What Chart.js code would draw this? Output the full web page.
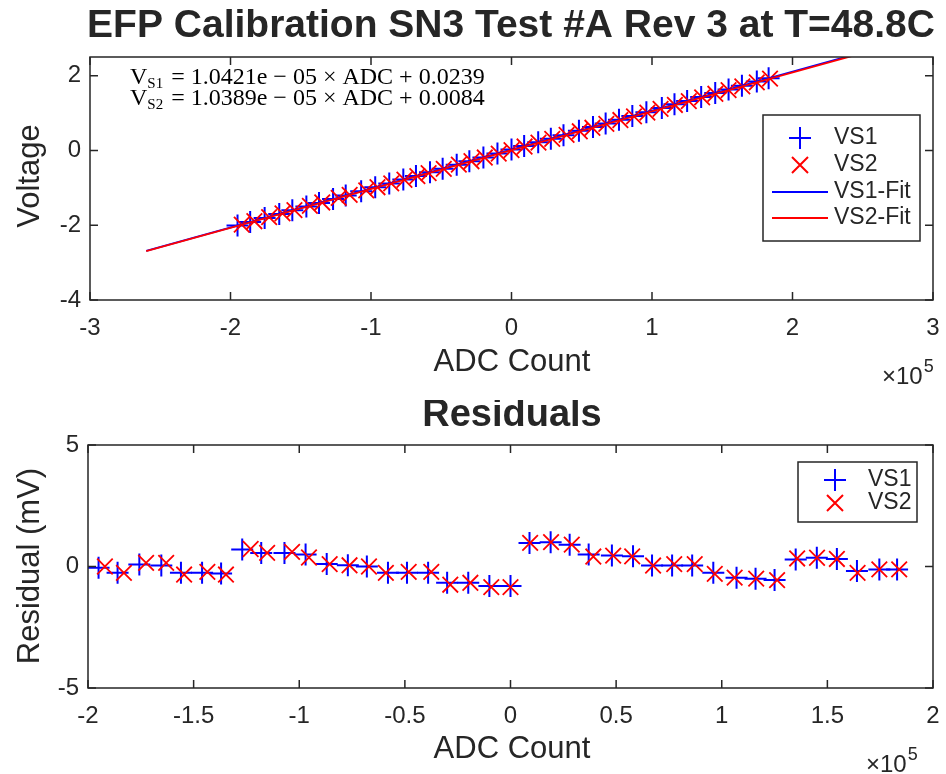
<!DOCTYPE html>
<html><head><meta charset="utf-8">
<script src="https://cdn.jsdelivr.net/npm/chart.js@4.4.1/dist/chart.umd.min.js"></script>
<style>
html,body{margin:0;padding:0;background:#fff;}
#wrap{position:relative;width:946px;height:774px;overflow:hidden;}
canvas{position:absolute;left:0;}
</style></head>
<body><div id="wrap">
<canvas id="c1" width="946" height="400" style="top:0;width:946px;height:400px"></canvas>
<canvas id="c2" width="946" height="374" style="top:400px;width:946px;height:374px"></canvas>
</div>
<script>
// ADC counts in units of 1e5
const adc1 = [-1.95,-1.86,-1.757,-1.653,-1.56,-1.46,-1.37,-1.27,-1.18,-1.07,-0.97,-0.87,-0.77,-0.68,-0.58,-0.49,-0.39,-0.30,-0.20,-0.10,0.0,0.09,0.19,0.28,0.37,0.48,0.58,0.67,0.765,0.86,0.96,1.07,1.16,1.25,1.35,1.45,1.545,1.64,1.746,1.83];
const adc2 = [-1.92,-1.83,-1.725,-1.63,-1.545,-1.435,-1.347,-1.23,-1.152,-1.034,-0.954,-0.856,-0.762,-0.67,-0.59,-0.482,-0.375,-0.285,-0.19,-0.091,0.0,0.093,0.192,0.29,0.392,0.486,0.576,0.675,0.775,0.872,0.967,1.061,1.163,1.262,1.357,1.451,1.545,1.643,1.746,1.84];
// Voltages (V)
const volt1 = [-2.008,-1.914,-1.807,-1.699,-1.602,-1.498,-1.404,-1.299,-1.206,-1.091,-0.987,-0.883,-0.779,-0.685,-0.581,-0.487,-0.383,-0.289,-0.185,-0.080,0.024,0.118,0.222,0.316,0.410,0.524,0.628,0.722,0.821,0.920,1.024,1.139,1.233,1.326,1.431,1.535,1.634,1.733,1.843,1.931];
const volt2 = [-1.986,-1.893,-1.784,-1.685,-1.597,-1.482,-1.391,-1.269,-1.188,-1.066,-0.983,-0.881,-0.783,-0.688,-0.605,-0.492,-0.381,-0.288,-0.189,-0.086,0.008,0.105,0.208,0.310,0.416,0.513,0.607,0.710,0.814,0.914,1.013,1.111,1.217,1.320,1.418,1.516,1.614,1.715,1.822,1.920];
// Residuals (mV)
const res1 = [-0.05,-0.26,0.08,0.04,-0.26,-0.26,-0.29,0.70,0.56,0.56,0.49,0.10,0.05,0.00,-0.26,-0.26,-0.26,-0.67,-0.67,-0.80,-0.80,0.97,1.00,0.90,0.49,0.45,0.42,0.04,0.04,0.04,-0.26,-0.46,-0.50,-0.56,0.29,0.36,0.31,-0.19,-0.12,-0.12];
const res2 = [0.00,-0.26,0.15,0.15,-0.33,-0.22,-0.33,0.72,0.56,0.60,0.37,0.10,0.05,0.00,-0.26,-0.22,-0.22,-0.75,-0.67,-0.85,-0.85,0.97,1.00,0.90,0.41,0.45,0.42,0.04,0.10,0.10,-0.30,-0.46,-0.50,-0.56,0.33,0.36,0.31,-0.26,-0.12,-0.12];
// Fit lines
const fitAdc = [-2.6, 2.5];
const fit1 = [-2.686, 2.629];
const fit2 = [-2.693, 2.606];
// Tick labels
const topXTicks = [-3,-2,-1,0,1,2,3];
const topYTicks = [-4,-2,0,2];
const resXTicks = [-2,-1.5,-1,-0.5,0,0.5,1,1.5,2];
const resYTicks = [-5,0,5];
const titleTop = 'EFP Calibration SN3 Test #A Rev 3 at T=48.8C';
const titleRes = 'Residuals';
const eq1 = ['V','S1',' = 1.0421e \u2212 05 \u00d7 ADC + 0.0239'];
const eq2 = ['V','S2',' = 1.0389e \u2212 05 \u00d7 ADC + 0.0084'];

const FONT = '"Liberation Sans", Arial, sans-serif';
const SERIF = '"Liberation Serif", "Times New Roman", serif';
const TXT = '#262626';
const BLUE = '#0000ff', RED = '#ff0000';

const pts = (xs, ys) => xs.map((x,i)=>({x:x, y:ys[i]}));

function axisCfg(min, max, ticks, isX, fitSize){
  return {
    type:'linear', min:min, max:max,
    grid:{display:false, drawTicks:false}, border:{display:false},
    afterBuildTicks: s => { s.ticks = ticks.map(v=>({value:v})); },
    ticks:{color:TXT, font:{family:FONT, size:24}, padding: isX ? 14 : 9,
      maxRotation:0, autoSkip:false, callback:v=>String(v)},
    afterFit: s => {
      if(isX){ s.height = fitSize; s.paddingLeft = 0; s.paddingRight = 0; }
      else { s.width = fitSize; s.paddingTop = 0; s.paddingBottom = 0; }
    }
  };
}

function drawPlus(ctx,x,y,r,c,w){ctx.save();ctx.strokeStyle=c;ctx.lineWidth=w;ctx.beginPath();ctx.moveTo(x-r,y);ctx.lineTo(x+r,y);ctx.moveTo(x,y-r);ctx.lineTo(x,y+r);ctx.stroke();ctx.restore();}
function drawX(ctx,x,y,r,c,w){ctx.save();ctx.strokeStyle=c;ctx.lineWidth=w;ctx.beginPath();ctx.moveTo(x-r,y-r);ctx.lineTo(x+r,y+r);ctx.moveTo(x-r,y+r);ctx.lineTo(x+r,y-r);ctx.stroke();ctx.restore();}

function frame(chart){
  const ctx = chart.ctx, a = chart.chartArea, xs = chart.scales.x, ys = chart.scales.y;
  ctx.save();
  ctx.strokeStyle = TXT; ctx.lineWidth = 1.5;
  ctx.strokeRect(a.left, a.top, a.right-a.left, a.bottom-a.top);
  const L = 8;
  ctx.beginPath();
  xs.ticks.forEach(t=>{const p = xs.getPixelForValue(t.value);
    ctx.moveTo(p,a.bottom); ctx.lineTo(p,a.bottom-L); ctx.moveTo(p,a.top); ctx.lineTo(p,a.top+L);});
  ys.ticks.forEach(t=>{const p = ys.getPixelForValue(t.value);
    ctx.moveTo(a.left,p); ctx.lineTo(a.left+L,p); ctx.moveTo(a.right,p); ctx.lineTo(a.right-L,p);});
  ctx.stroke();
  ctx.restore();
}

function text(ctx, s, x, y, font, align, rot){
  ctx.save(); ctx.fillStyle = TXT; ctx.font = font; ctx.textAlign = align || 'center'; ctx.textBaseline = 'middle';
  ctx.translate(x,y); if(rot) ctx.rotate(rot); ctx.fillText(s,0,0); ctx.restore();
}

function times10(ctx, x, y){
  ctx.save(); ctx.fillStyle = TXT; ctx.textBaseline='alphabetic'; ctx.textAlign='left';
  ctx.font = '24px ' + FONT; ctx.fillText('\u00d710', x, y);
  const w = ctx.measureText('\u00d710').width;
  ctx.font = '18px ' + FONT; ctx.fillText('5', x + w + 1, y - 12);
  ctx.restore();
}

function equation(ctx, parts, x, y){
  ctx.save(); ctx.fillStyle = '#000'; ctx.textBaseline = 'alphabetic'; ctx.textAlign = 'left';
  ctx.font = '24px ' + SERIF;
  ctx.fillText(parts[0], x, y); let w = ctx.measureText(parts[0]).width;
  ctx.font = '15px ' + SERIF;
  ctx.fillText(parts[1], x + w, y + 4); w += ctx.measureText(parts[1]).width;
  ctx.font = '24px ' + SERIF;
  ctx.fillText(parts[2], x + w + 2, y);
  ctx.restore();
}

const topPlugin = {id:'topDeco', afterDraw(chart){
  const ctx = chart.ctx;
  frame(chart);
  text(ctx, titleTop, 511, 26, 'bold 39px ' + FONT);
  text(ctx, 'ADC Count', 512, 362, '31px ' + FONT);
  text(ctx, 'Voltage', 30, 176, '31px ' + FONT, 'center', -Math.PI/2);
  times10(ctx, 882, 384);
  equation(ctx, eq1, 130, 84);
  equation(ctx, eq2, 130, 105);
  // legend
  ctx.save();
  ctx.fillStyle = '#fff'; ctx.fillRect(763,115,157,126);
  ctx.strokeStyle = TXT; ctx.lineWidth = 1.5; ctx.strokeRect(763,115,157,126);
  const ds = chart.data.datasets;
  const rows = [138,165,192,218];
  drawPlus(ctx, 800, rows[0], 11, BLUE, 2);
  drawX(ctx, 800, rows[1], 8, RED, 2);
  ctx.strokeStyle = BLUE; ctx.lineWidth = 2; ctx.beginPath(); ctx.moveTo(772, rows[2]); ctx.lineTo(828, rows[2]); ctx.stroke();
  ctx.strokeStyle = RED; ctx.beginPath(); ctx.moveTo(772, rows[3]); ctx.lineTo(828, rows[3]); ctx.stroke();
  ds.forEach((d,i)=> text(ctx, d.label, 834, rows[i], '23px ' + FONT, 'left'));
  ctx.restore();
}};

const resPlugin = {id:'resDeco', afterDraw(chart){
  const ctx = chart.ctx;
  frame(chart);
  text(ctx, titleRes, 512, 16, 'bold 38px ' + FONT);
  text(ctx, 'ADC Count', 512, 349, '31px ' + FONT);
  text(ctx, 'Residual (mV)', 30, 166, '31px ' + FONT, 'center', -Math.PI/2);
  times10(ctx, 866, 372);
  ctx.save();
  ctx.fillStyle = '#fff'; ctx.fillRect(798,62,119,60);
  ctx.strokeStyle = TXT; ctx.lineWidth = 1.5; ctx.strokeRect(798,62,119,60);
  drawPlus(ctx, 835, 80, 11, BLUE, 2);
  drawX(ctx, 835, 103, 8, RED, 2);
  const ds = chart.data.datasets;
  text(ctx, ds[0].label, 868, 80, '23px ' + FONT, 'left');
  text(ctx, ds[1].label, 868, 103, '23px ' + FONT, 'left');
  ctx.restore();
}};

Chart.defaults.animation = false;

new Chart(document.getElementById('c1'), {
  type:'scatter',
  data:{datasets:[
    {label:'VS1', data:pts(adc1, volt1), pointStyle:'cross', pointRadius:11, borderColor:BLUE, backgroundColor:BLUE, pointBorderWidth:2, order:4},
    {label:'VS2', data:pts(adc2, volt2), pointStyle:'crossRot', pointRadius:11, borderColor:RED, backgroundColor:RED, pointBorderWidth:1.8, order:3},
    {label:'VS1-Fit', data:pts(fitAdc, fit1), showLine:true, pointRadius:0, borderColor:BLUE, borderWidth:1.8, order:2},
    {label:'VS2-Fit', data:pts(fitAdc, fit2), showLine:true, pointRadius:0, borderColor:RED, borderWidth:1.8, order:1}
  ]},
  options:{responsive:false, animation:false, events:[],
    layout:{padding:{top:57, right:11, left:0, bottom:0}},
    plugins:{legend:{display:false}, tooltip:{enabled:false}, title:{display:false}},
    scales:{x:axisCfg(-3,3,topXTicks,true,100), y:axisCfg(-4,2.5,topYTicks,false,90)}
  },
  plugins:[topPlugin]
});

new Chart(document.getElementById('c2'), {
  type:'scatter',
  data:{datasets:[
    {label:'VS1', data:pts(adc1, res1), pointStyle:'cross', pointRadius:11, borderColor:BLUE, backgroundColor:BLUE, pointBorderWidth:2, order:2},
    {label:'VS2', data:pts(adc2, res2), pointStyle:'crossRot', pointRadius:11, borderColor:RED, backgroundColor:RED, pointBorderWidth:1.8, order:1}
  ]},
  options:{responsive:false, animation:false, events:[],
    layout:{padding:{top:45, right:11, left:0, bottom:0}},
    plugins:{legend:{display:false}, tooltip:{enabled:false}, title:{display:false}},
    scales:{x:axisCfg(-2,2,resXTicks,true,86), y:axisCfg(-5,5,resYTicks,false,88)}
  },
  plugins:[resPlugin]
});
</script>
</body></html>
